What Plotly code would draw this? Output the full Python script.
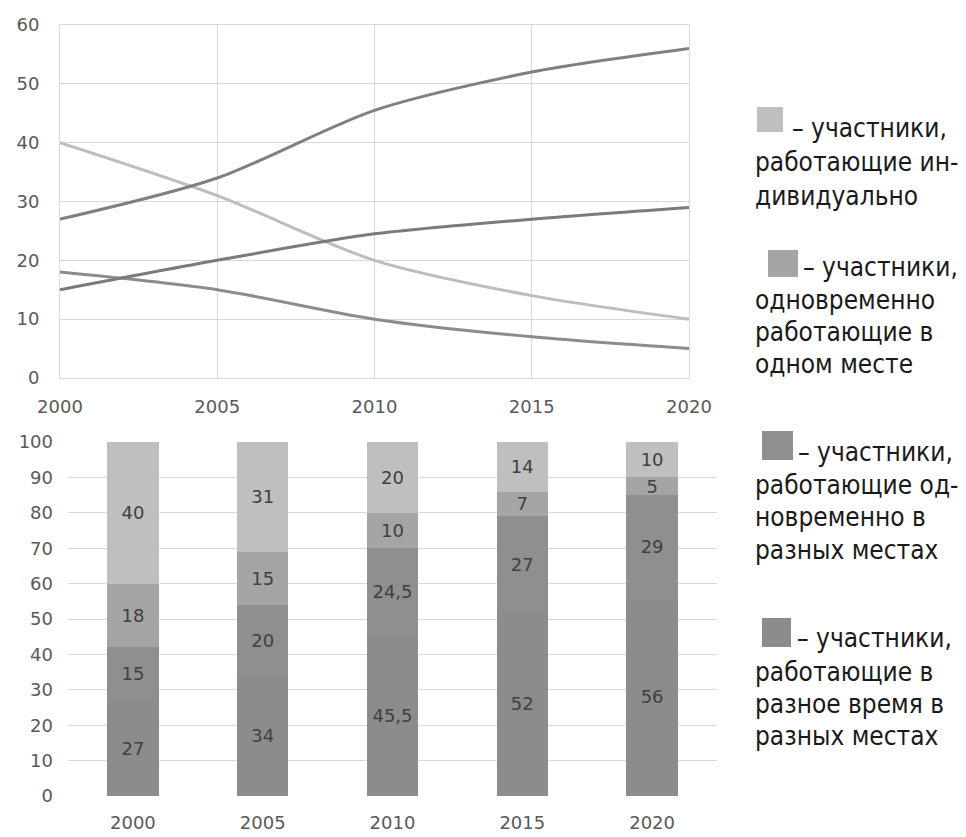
import plotly.graph_objects as go

# Years and participant shares (%) by working mode
years = [2000, 2005, 2010, 2015, 2020]
individual = [40, 31, 20, 14, 10]          # работающие индивидуально
same_place = [18, 15, 10, 7, 5]            # одновременно в одном месте
simult_diff_places = [15, 20, 24.5, 27, 29]  # одновременно в разных местах
diff_time_diff_places = [27, 34, 45.5, 52, 56]  # в разное время в разных местах

year_labels = [str(y) for y in years]

W, H = 966, 837
FONT = "DejaVu Sans"
LEG_FONT = "DejaVu Sans Condensed, DejaVu Sans"
TICK_COLOR = "#595959"
GRID = "#d9d9d9"

c_ind = "#bfbfbf"
c_same = "#a5a5a5"
c_sim = "#8f8f8f"
c_diff = "#8c8c8c"


def px_x(x):
    return x / W


def px_y(y):
    return 1 - y / H


def fmt(v):
    return (f"{v:g}").replace(".", ",")


fig = go.Figure()

# --- upper panel: smoothed trend lines ---
line_specs = [
    (individual, "#bdbdbd"),
    (same_place, "#8c8c8c"),
    (simult_diff_places, "#7b7b7b"),
    (diff_time_diff_places, "#808080"),
]
for vals, col in line_specs:
    fig.add_trace(go.Scatter(
        x=years, y=vals, mode="lines",
        line=dict(color=col, width=3, shape="spline", smoothing=0.8),
        xaxis="x", yaxis="y", showlegend=False, hoverinfo="skip",
    ))

# --- lower panel: stacked bars ---
bar_specs = [
    (diff_time_diff_places, c_diff),
    (simult_diff_places, c_sim),
    (same_place, c_same),
    (individual, c_ind),
]
for vals, col in bar_specs:
    fig.add_trace(go.Bar(
        x=year_labels, y=vals, marker=dict(color=col, line=dict(width=0)),
        text=[fmt(v) for v in vals], textposition="inside",
        insidetextanchor="middle", textangle=0, constraintext="none",
        textfont=dict(family=FONT, size=18, color="#404040"),
        xaxis="x2", yaxis="y2", showlegend=False, hoverinfo="skip",
        cliponaxis=False,
    ))

# --- legend built from squares and text lines ---
legend_blocks = [
    (c_ind, (757, 107, 783, 132), 790,
     ["– участники,", "работающие ин-", "дивидуально"],
     [128, 162, 196]),
    (c_same, (768, 250, 798, 277), 801,
     ["– участники,", "одновременно", "работающие в", "одном месте"],
     [267, 300, 332, 364]),
    (c_sim, (762, 431, 793, 460), 796,
     ["– участники,", "работающие од-", "новременно в", "разных местах"],
     [452, 485, 517, 550]),
    (c_diff, (762, 618, 791, 647), 795,
     ["– участники,", "работающие в", "разное время в", "разных местах"],
     [638, 672, 704, 736]),
]
shapes = []
annotations = []
for col, (x0, y0, x1, y1), first_x, lines, ys in legend_blocks:
    shapes.append(dict(type="rect", xref="paper", yref="paper",
                       x0=px_x(x0), x1=px_x(x1), y0=px_y(y1), y1=px_y(y0),
                       fillcolor=col, line=dict(width=0)))
    for i, (txt, yc) in enumerate(zip(lines, ys)):
        annotations.append(dict(
            text=txt, xref="paper", yref="paper",
            x=px_x(first_x if i == 0 else 753), y=px_y(yc),
            xanchor="left", yanchor="middle", showarrow=False,
            font=dict(family=LEG_FONT, size=26, color="#1a1a1a"),
        ))

tick_font = dict(family=FONT, size=18, color=TICK_COLOR)

fig.update_layout(
    width=W, height=H,
    margin=dict(l=0, r=0, t=0, b=0, autoexpand=False),
    paper_bgcolor="white", plot_bgcolor="white",
    barmode="stack", bargap=0.605,
    shapes=shapes, annotations=annotations,
    xaxis=dict(domain=[px_x(60), px_x(689)], range=[2000, 2020],
               tickvals=years, ticktext=year_labels,
               showgrid=True, gridcolor=GRID, gridwidth=1,
               showline=True, mirror=True, linecolor=GRID, linewidth=1,
               zeroline=False, ticks="", tickfont=tick_font,
               ticklabelstandoff=12, anchor="y", automargin=False),
    yaxis=dict(domain=[px_y(378), px_y(25)], range=[0, 60], dtick=10,
               showgrid=True, gridcolor=GRID, gridwidth=1,
               showline=True, mirror=True, linecolor=GRID, linewidth=1,
               zeroline=False, ticks="", tickfont=tick_font,
               ticklabelstandoff=16, anchor="x", automargin=False),
    xaxis2=dict(domain=[px_x(68), px_x(717)], type="category",
                showgrid=False, showline=False, zeroline=False, ticks="",
                tickfont=tick_font, ticklabelstandoff=14, anchor="y2",
                automargin=False),
    yaxis2=dict(domain=[px_y(796), px_y(442)], range=[0, 100], dtick=10,
                showgrid=True, gridcolor=GRID, gridwidth=1,
                showline=False, zeroline=False, ticks="",
                tickfont=tick_font, ticklabelstandoff=14, anchor="x2",
                automargin=False),
)

fig.write_html("out.html")
